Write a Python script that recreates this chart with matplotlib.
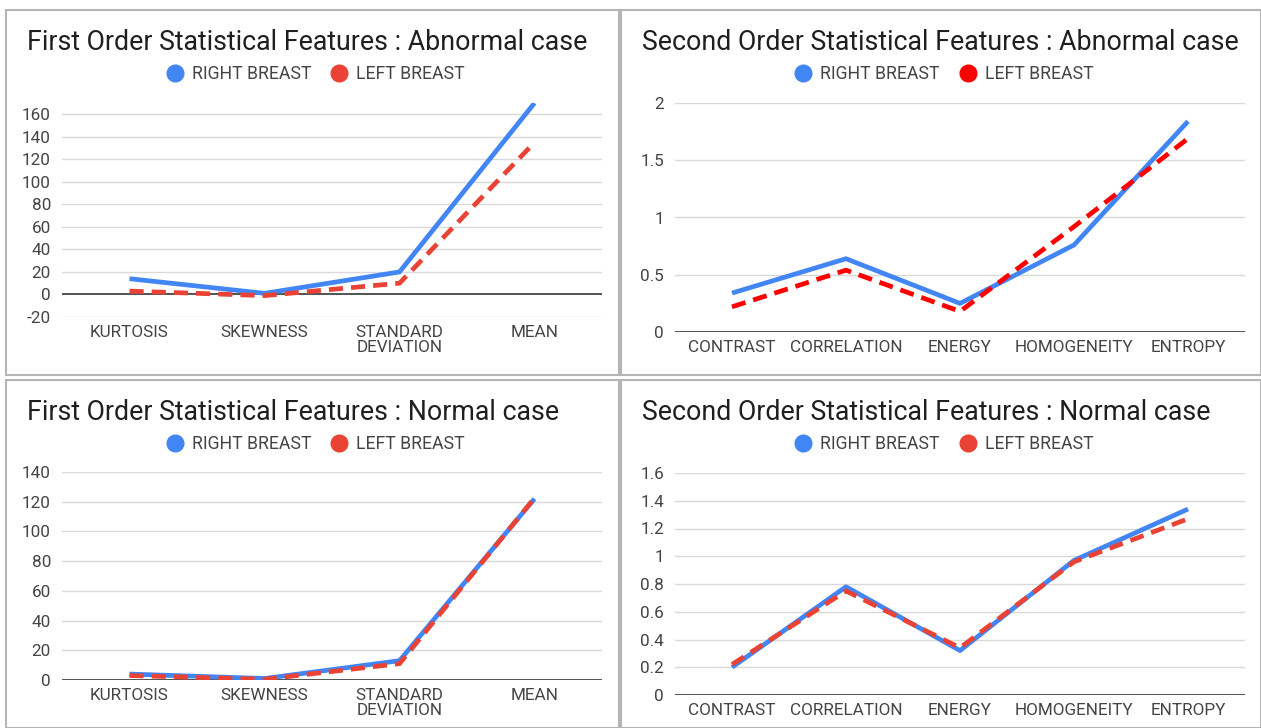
"""Four Google-Sheets style line charts: first/second order features, abnormal vs normal."""
import matplotlib
matplotlib.use('Agg')
import matplotlib.pyplot as plt
from matplotlib.lines import Line2D
from matplotlib.patches import Rectangle

plt.rcParams['font.family'] = ['Roboto', 'DejaVu Sans']

W, H = 1261, 728
BLUE = '#4285F4'
RED = '#EA4335'
PURE_RED = '#FF0000'

FIRST_CATS = ['KURTOSIS', 'SKEWNESS', 'STANDARD\nDEVIATION', 'MEAN']
SECOND_CATS = ['CONTRAST', 'CORRELATION', 'ENERGY', 'HOMOGENEITY', 'ENTROPY']

first_abn_right = [14, 1, 20, 170]
first_abn_left = [3, -1, 10, 135]
second_abn_right = [0.34, 0.64, 0.25, 0.76, 1.84]
second_abn_left = [0.22, 0.54, 0.18, 0.92, 1.69]
first_norm_right = [4, 1, 13, 122]
first_norm_left = [3, 0.5, 11, 122.5]
second_norm_right = [0.20, 0.78, 0.32, 0.97, 1.34]
second_norm_left = [0.22, 0.75, 0.34, 0.96, 1.27]

first_abn_ticks = [-20, 0, 20, 40, 60, 80, 100, 120, 140, 160]
second_abn_ticks = [0, 0.5, 1, 1.5, 2]
first_norm_ticks = [0, 20, 40, 60, 80, 100, 120, 140]
second_norm_ticks = [0, 0.2, 0.4, 0.6, 0.8, 1, 1.2, 1.4, 1.6]


def px_axes(fig, x0, y0, x1, y1):
    """axes from pixel box (top-left origin)."""
    return fig.add_axes([x0 / W, 1 - y1 / H, (x1 - x0) / W, (y1 - y0) / H], zorder=2)


def fmt(v):
    return f'{v:g}'


def panel(fig, box, plot_box, title, cats, right, left, ticks, ylim, red):
    bx0, by0, bx1, by1 = box
    fig.patches.append(Rectangle((bx0 / W, 1 - by1 / H), (bx1 - bx0) / W, (by1 - by0) / H,
                                 transform=fig.transFigure, facecolor='white',
                                 edgecolor='#b5b5b5', linewidth=1.5, zorder=-5))
    fig.text((bx0 + 21) / W, 1 - (by0 + 33) / H, title, fontsize=19.3, color='#1f1f1f',
             ha='left', va='center')

    ax = px_axes(fig, *plot_box)
    x = list(range(len(cats)))
    ax.plot(x, right, color=BLUE, lw=3.4, solid_capstyle='butt', zorder=3)
    ax.plot(x, left, color=red, lw=3.4, ls=(0, (3.0, 1.7)), zorder=4)
    ax.set_xlim(-0.5, len(cats) - 0.5)
    ax.set_ylim(*ylim)
    ax.set_yticks(ticks)
    ax.set_yticklabels([fmt(t) for t in ticks])
    ax.set_xticks(x)
    ax.set_xticklabels(cats, linespacing=0.95)
    for t in ticks:
        if t == 0:
            ax.axhline(0, color='#444444', lw=1.3, zorder=2)
        else:
            ax.axhline(t, color='#d9d9d9', lw=1.0, zorder=1)
    for s in ax.spines.values():
        s.set_visible(False)
    ax.tick_params(axis='both', length=0, labelsize=12.3, labelcolor='#444444')
    ax.tick_params(axis='y', pad=8)
    ax.tick_params(axis='x', pad=6)
    ax.patch.set_alpha(0)

    # legend centred in the chart box, under the title
    cx = (bx0 + bx1) / 2 + 3
    handles = [Line2D([], [], ls='', marker='o', ms=12, color=BLUE),
               Line2D([], [], ls='', marker='o', ms=12, color=red)]
    fig.legend(handles, ['RIGHT BREAST', 'LEFT BREAST'], loc='center',
               bbox_to_anchor=(cx / W, 1 - (by0 + 64) / H), ncol=2, frameon=False,
               fontsize=12.7, labelcolor='#444444', handletextpad=0.45,
               columnspacing=1.1, handlelength=1.0)
    return ax


fig = plt.figure(figsize=(W / 100, H / 100), dpi=100)
fig.patch.set_facecolor('white')

panel(fig, (6, 10, 619, 375), (62, 103, 602, 317),
      'First Order Statistical Features : Abnormal case', FIRST_CATS,
      first_abn_right, first_abn_left, first_abn_ticks, (-20, 170), RED)
panel(fig, (621, 10, 1261, 375), (675, 103, 1245, 332),
      'Second Order Statistical Features : Abnormal case', SECOND_CATS,
      second_abn_right, second_abn_left, second_abn_ticks, (0, 2), PURE_RED)
panel(fig, (6, 380, 619, 728), (62, 472, 602, 680),
      'First Order Statistical Features : Normal case', FIRST_CATS,
      first_norm_right, first_norm_left, first_norm_ticks, (0, 140), RED)
panel(fig, (621, 380, 1261, 728), (675, 473, 1245, 695),
      'Second Order Statistical Features : Normal case', SECOND_CATS,
      second_norm_right, second_norm_left, second_norm_ticks, (0, 1.6), RED)

fig.savefig('out.png', dpi=100)
